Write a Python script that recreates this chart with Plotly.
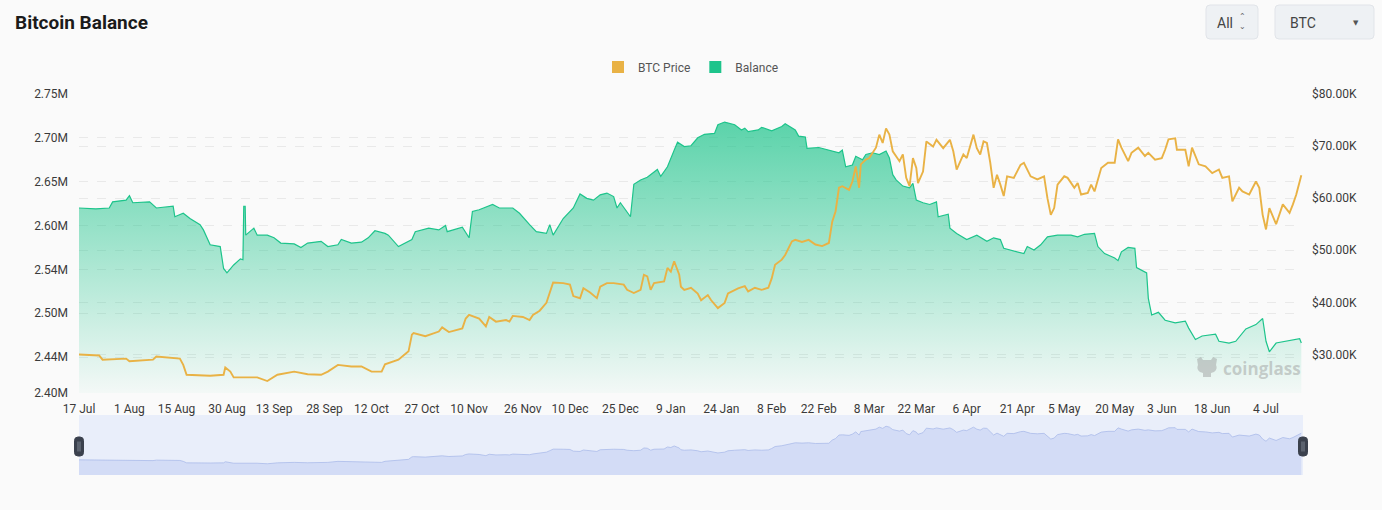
import plotly.graph_objects as go

# balance of BTC held on exchanges, in millions of BTC
balance_dates = [
    "2023-07-17", "2023-07-22", "2023-07-26", "2023-07-27", "2023-07-31", "2023-08-01",
    "2023-08-02", "2023-08-07", "2023-08-09", "2023-08-14", "2023-08-14 12:00", "2023-08-17",
    "2023-08-19", "2023-08-22", "2023-08-23", "2023-08-25", "2023-08-28", "2023-08-29",
    "2023-08-30", "2023-09-01", "2023-09-03", "2023-09-03 18:00", "2023-09-04", "2023-09-04 10:00",
    "2023-09-04 14:00", "2023-09-07", "2023-09-08", "2023-09-11", "2023-09-13", "2023-09-15",
    "2023-09-19", "2023-09-21", "2023-09-23", "2023-09-27", "2023-09-29", "2023-10-02",
    "2023-10-03", "2023-10-06", "2023-10-09", "2023-10-11", "2023-10-13", "2023-10-16",
    "2023-10-17", "2023-10-20", "2023-10-24", "2023-10-25", "2023-10-29", "2023-11-01",
    "2023-11-03", "2023-11-03 12:00", "2023-11-08", "2023-11-10", "2023-11-11", "2023-11-13",
    "2023-11-17", "2023-11-19", "2023-11-23", "2023-11-25", "2023-11-28", "2023-11-30",
    "2023-12-03", "2023-12-04", "2023-12-05", "2023-12-08", "2023-12-11", "2023-12-13",
    "2023-12-15", "2023-12-17", "2023-12-19", "2023-12-21", "2023-12-23", "2023-12-24",
    "2023-12-25", "2023-12-28", "2023-12-29", "2023-12-31", "2024-01-02", "2024-01-05",
    "2024-01-06", "2024-01-08", "2024-01-10", "2024-01-11", "2024-01-13", "2024-01-15",
    "2024-01-17", "2024-01-19", "2024-01-22", "2024-01-23", "2024-01-25", "2024-01-28",
    "2024-01-30", "2024-01-31", "2024-02-01", "2024-02-04", "2024-02-05", "2024-02-08",
    "2024-02-11", "2024-02-12", "2024-02-15", "2024-02-16", "2024-02-18", "2024-02-18 12:00",
    "2024-02-22", "2024-02-25", "2024-02-28", "2024-02-29", "2024-03-01", "2024-03-03",
    "2024-03-04", "2024-03-06", "2024-03-07", "2024-03-09", "2024-03-11", "2024-03-13",
    "2024-03-14", "2024-03-15", "2024-03-16", "2024-03-18", "2024-03-20", "2024-03-21",
    "2024-03-22", "2024-03-24", "2024-03-26", "2024-03-28", "2024-03-28 12:00", "2024-03-31 12:00",
    "2024-04-01", "2024-04-03", "2024-04-06", "2024-04-09", "2024-04-12", "2024-04-14",
    "2024-04-16", "2024-04-17", "2024-04-20", "2024-04-23", "2024-04-24", "2024-04-26",
    "2024-04-28", "2024-04-30", "2024-05-03", "2024-05-07", "2024-05-09", "2024-05-11",
    "2024-05-14", "2024-05-15", "2024-05-17", "2024-05-20", "2024-05-21", "2024-05-22",
    "2024-05-24", "2024-05-26", "2024-05-26 12:00", "2024-05-28", "2024-05-29 12:00", "2024-05-30",
    "2024-05-31", "2024-06-02", "2024-06-04", "2024-06-07", "2024-06-10", "2024-06-11",
    "2024-06-13", "2024-06-15", "2024-06-19", "2024-06-20", "2024-06-23", "2024-06-25",
    "2024-06-28", "2024-07-01", "2024-07-03", "2024-07-04", "2024-07-05", "2024-07-07",
    "2024-07-10", "2024-07-12", "2024-07-14", "2024-07-14 12:00",
]
balance_m = [
    2.620, 2.619, 2.620, 2.627, 2.629, 2.634,
    2.626, 2.627, 2.620, 2.622, 2.610, 2.614,
    2.608, 2.601, 2.595, 2.578, 2.576, 2.551,
    2.546, 2.555, 2.562, 2.561, 2.622, 2.622,
    2.589, 2.597, 2.589, 2.589, 2.586, 2.580,
    2.579, 2.575, 2.580, 2.582, 2.576, 2.578,
    2.584, 2.580, 2.581, 2.586, 2.594, 2.591,
    2.589, 2.576, 2.584, 2.593, 2.597, 2.595,
    2.600, 2.593, 2.598, 2.586, 2.616, 2.618,
    2.624, 2.620, 2.620, 2.614, 2.601, 2.593,
    2.591, 2.601, 2.589, 2.608, 2.620, 2.636,
    2.631, 2.629, 2.635, 2.637, 2.633, 2.620,
    2.626, 2.610, 2.647, 2.652, 2.655, 2.664,
    2.656, 2.667, 2.686, 2.695, 2.690, 2.691,
    2.700, 2.704, 2.705, 2.715, 2.718, 2.715,
    2.709, 2.711, 2.707, 2.709, 2.712, 2.708,
    2.713, 2.716, 2.709, 2.702, 2.701, 2.688,
    2.689, 2.686, 2.683, 2.686, 2.667, 2.669,
    2.679, 2.675, 2.681, 2.683, 2.681, 2.685,
    2.677, 2.658, 2.652, 2.645, 2.643, 2.648,
    2.629, 2.626, 2.624, 2.627, 2.610, 2.613,
    2.597, 2.591, 2.584, 2.589, 2.582, 2.586,
    2.584, 2.574, 2.571, 2.568, 2.576, 2.572,
    2.578, 2.587, 2.589, 2.589, 2.587, 2.590,
    2.591, 2.576, 2.568, 2.563, 2.560, 2.570,
    2.575, 2.574, 2.552, 2.549, 2.546, 2.517,
    2.498, 2.501, 2.492, 2.489, 2.491, 2.483,
    2.470, 2.474, 2.476, 2.468, 2.466, 2.468,
    2.482, 2.487, 2.494, 2.468, 2.456, 2.466,
    2.468, 2.470, 2.471, 2.466,
]

# BTC price, thousands of USD
price_dates = [
    "2023-07-17", "2023-07-23", "2023-07-24", "2023-07-31", "2023-08-01", "2023-08-08",
    "2023-08-09", "2023-08-16", "2023-08-17", "2023-08-18", "2023-08-25", "2023-08-29",
    "2023-08-29 12:00", "2023-08-31", "2023-09-01", "2023-09-08", "2023-09-11", "2023-09-14",
    "2023-09-19", "2023-09-23", "2023-09-27", "2023-09-29", "2023-10-02", "2023-10-06",
    "2023-10-09", "2023-10-12", "2023-10-15", "2023-10-16", "2023-10-20", "2023-10-22",
    "2023-10-23", "2023-10-24", "2023-10-24 12:00", "2023-10-28", "2023-11-01", "2023-11-02",
    "2023-11-04", "2023-11-08", "2023-11-09", "2023-11-10", "2023-11-13", "2023-11-15",
    "2023-11-16", "2023-11-18", "2023-11-21", "2023-11-22", "2023-11-23", "2023-11-26",
    "2023-11-28", "2023-11-29", "2023-12-01", "2023-12-03", "2023-12-04", "2023-12-05",
    "2023-12-08", "2023-12-10", "2023-12-11", "2023-12-13", "2023-12-14", "2023-12-16",
    "2023-12-18", "2023-12-19", "2023-12-21", "2023-12-23", "2023-12-26", "2023-12-27",
    "2023-12-29", "2023-12-31", "2024-01-01", "2024-01-02", "2024-01-03", "2024-01-04",
    "2024-01-07", "2024-01-08", "2024-01-09", "2024-01-10", "2024-01-11 12:00", "2024-01-12",
    "2024-01-13", "2024-01-15", "2024-01-17", "2024-01-18", "2024-01-20", "2024-01-21",
    "2024-01-23", "2024-01-25", "2024-01-26", "2024-01-28", "2024-01-29", "2024-01-31",
    "2024-02-01", "2024-02-03", "2024-02-05", "2024-02-07", "2024-02-08", "2024-02-09",
    "2024-02-11", "2024-02-12", "2024-02-14", "2024-02-15", "2024-02-17", "2024-02-19",
    "2024-02-21", "2024-02-23", "2024-02-25", "2024-02-26", "2024-02-27", "2024-02-28",
    "2024-02-29", "2024-03-02", "2024-03-03", "2024-03-04", "2024-03-05", "2024-03-05 12:00",
    "2024-03-07", "2024-03-08", "2024-03-10", "2024-03-11", "2024-03-12", "2024-03-13",
    "2024-03-14", "2024-03-15", "2024-03-17", "2024-03-18", "2024-03-19", "2024-03-20",
    "2024-03-21", "2024-03-22", "2024-03-22 12:00", "2024-03-24", "2024-03-25", "2024-03-27",
    "2024-03-28", "2024-03-30", "2024-04-01", "2024-04-02", "2024-04-03", "2024-04-05",
    "2024-04-06", "2024-04-08", "2024-04-09", "2024-04-10", "2024-04-11", "2024-04-12",
    "2024-04-13", "2024-04-14", "2024-04-15", "2024-04-16", "2024-04-17", "2024-04-18",
    "2024-04-20", "2024-04-22", "2024-04-23", "2024-04-25", "2024-04-27", "2024-04-29",
    "2024-04-30", "2024-05-01", "2024-05-02", "2024-05-03", "2024-05-05", "2024-05-06",
    "2024-05-08", "2024-05-09", "2024-05-10", "2024-05-12", "2024-05-13", "2024-05-14",
    "2024-05-16", "2024-05-18", "2024-05-20", "2024-05-21", "2024-05-22", "2024-05-24",
    "2024-05-25", "2024-05-27", "2024-05-29", "2024-05-30", "2024-06-01", "2024-06-03",
    "2024-06-04", "2024-06-05", "2024-06-07", "2024-06-07 12:00", "2024-06-10", "2024-06-11",
    "2024-06-12", "2024-06-14", "2024-06-16", "2024-06-18", "2024-06-20", "2024-06-21",
    "2024-06-23", "2024-06-24", "2024-06-26", "2024-06-27", "2024-06-29", "2024-07-01",
    "2024-07-02", "2024-07-03", "2024-07-04", "2024-07-05", "2024-07-07", "2024-07-09",
    "2024-07-11", "2024-07-12", "2024-07-13", "2024-07-14 12:00",
]
price_k = [
    30.0, 29.8, 29.0, 29.2, 28.7, 29.0,
    29.6, 29.2, 28.0, 26.1, 25.9, 26.1,
    27.5, 26.7, 25.6, 25.6, 24.9, 26.1,
    26.7, 26.2, 26.1, 26.7, 28.0, 27.7,
    27.7, 26.7, 26.7, 28.1, 29.0, 30.0,
    30.6, 33.8, 34.1, 33.5, 34.4, 35.2,
    34.3, 35.0, 36.9, 37.6, 36.9, 35.4,
    37.2, 36.3, 36.6, 36.3, 37.4, 37.2,
    36.6, 37.6, 38.4, 39.9, 41.8, 43.8,
    43.7, 43.4, 41.2, 40.8, 42.7, 41.9,
    40.8, 43.0, 43.7, 43.7, 43.4, 42.4,
    41.8, 42.4, 45.3, 45.0, 42.4, 43.7,
    44.0, 46.6, 45.9, 47.9, 45.3, 43.0,
    42.4, 42.8, 41.7, 40.4, 41.4, 40.4,
    38.9, 39.9, 41.7, 42.4, 42.7, 43.1,
    42.1, 42.8, 42.4, 42.8, 44.6, 47.2,
    48.2, 49.1, 51.7, 52.0, 51.6, 52.0,
    51.1, 50.8, 51.4, 55.5, 57.5, 62.0,
    62.3, 61.6, 63.2, 66.1, 62.0, 66.5,
    67.4, 67.7, 69.7, 72.2, 70.6, 73.4,
    72.2, 69.0, 67.1, 68.4, 63.9, 62.3,
    67.7, 65.8, 62.9, 65.1, 70.9, 69.9,
    71.2, 69.6, 71.2, 69.0, 65.5, 68.4,
    67.7, 72.2, 69.6, 68.4, 70.9, 70.6,
    66.8, 62.0, 64.5, 62.6, 60.4, 64.2,
    63.9, 66.4, 66.8, 64.2, 63.6, 64.2,
    60.0, 56.8, 58.1, 62.6, 64.2, 63.9,
    62.0, 62.9, 60.7, 61.0, 62.6, 61.3,
    65.8, 66.8, 66.8, 71.3, 69.7, 67.1,
    68.7, 69.7, 68.1, 68.7, 67.4, 67.7,
    69.3, 71.3, 71.5, 69.3, 69.3, 66.1,
    69.7, 66.5, 66.1, 64.8, 65.5, 63.9,
    64.2, 59.4, 62.0, 61.3, 60.7, 63.2,
    62.0, 56.8, 54.0, 58.1, 55.0, 58.8,
    57.2, 58.8, 60.7, 64.4,
]

x_tick_dates = [
    "2023-07-17", "2023-08-01", "2023-08-15", "2023-08-30", "2023-09-13", "2023-09-28",
    "2023-10-12", "2023-10-27", "2023-11-10", "2023-11-26", "2023-12-10", "2023-12-25",
    "2024-01-09", "2024-01-24", "2024-02-08", "2024-02-22", "2024-03-08", "2024-03-22",
    "2024-04-06", "2024-04-21", "2024-05-05", "2024-05-20", "2024-06-03", "2024-06-18",
    "2024-07-04",
]
balance_ticks = [2.409, 2.45, 2.50, 2.55, 2.60, 2.65, 2.70, 2.75]
balance_tick_text = ["2.40M", "2.44M", "2.50M", "2.54M", "2.60M", "2.65M", "2.70M", "2.75M"]
price_ticks = [30, 40, 50, 60, 70, 80]
price_tick_text = ["$30.00K", "$40.00K", "$50.00K", "$60.00K", "$70.00K", "$80.00K"]

GREEN = "#1dc48b"
GOLD = "#e9b245"
FONT = "Roboto"
BG = "#fafafa"

# figure geometry (px)
W, H = 1382, 510
L, R, T, B = 79, 79, 94, 35
PLOT_H = H - T - B
MAIN_BOTTOM = (475 - 393) / PLOT_H
SLIDER_TOP = (475 - 415) / PLOT_H


def px_x(x):
    return (x - L) / (W - L - R)


def px_y(y):
    return (H - B - y) / PLOT_H


def rounded_rect(hw, hh, r):
    return (
        f"M {-hw + r},{-hh} L {hw - r},{-hh} Q {hw},{-hh} {hw},{-hh + r} "
        f"L {hw},{hh - r} Q {hw},{hh} {hw - r},{hh} L {-hw + r},{hh} "
        f"Q {-hw},{hh} {-hw},{hh - r} L {-hw},{-hh + r} Q {-hw},{-hh} {-hw + r},{-hh} Z"
    )


def pixel_shape(cx, cy, path, fill, line, width=1):
    return dict(
        type="path", xref="paper", yref="paper",
        xsizemode="pixel", ysizemode="pixel",
        xanchor=px_x(cx), yanchor=px_y(cy),
        path=path, fillcolor=fill, line=dict(color=line, width=width),
    )


def main():
    fig = go.Figure()

    fig.add_trace(go.Scatter(
        x=balance_dates, y=balance_m, name="Balance", showlegend=False,
        mode="lines", line=dict(color=GREEN, width=1.2),
        fill="tozeroy",
        fillgradient=dict(
            type="vertical", start=2.409, stop=max(balance_m),
            colorscale=[[0, "rgba(29,196,139,0.03)"], [1, "rgba(29,196,139,0.72)"]],
        ),
        hoverinfo="skip",
    ))
    fig.add_trace(go.Scatter(
        x=price_dates, y=price_k, name="BTC Price", showlegend=False,
        mode="lines", line=dict(color=GOLD, width=1.9), yaxis="y2",
        hoverinfo="skip",
    ))
    # data shadow of the zoom slider
    fig.add_trace(go.Scatter(
        x=price_dates, y=price_k, showlegend=False, xaxis="x2", yaxis="y3",
        mode="lines", line=dict(color="#abbbea", width=0.8),
        fill="tozeroy", fillcolor="#d3dcf6", hoverinfo="skip",
    ))
    # legend swatches
    for name, color in [("BTC Price", GOLD), ("Balance", GREEN)]:
        fig.add_trace(go.Scatter(
            x=[None], y=[None], name=name, mode="markers",
            marker=dict(symbol="square", size=12, color=color),
        ))

    fig.update_layout(
        width=W, height=H,
        margin=dict(l=L, r=R, t=T, b=B, autoexpand=False),
        paper_bgcolor=BG, plot_bgcolor="rgba(0,0,0,0)",
        font=dict(family=FONT, size=12, color="#3a3a3a"),
        title=dict(
            text="Bitcoin Balance", xref="container", yref="container",
            x=15 / W, y=1 - 22 / H, xanchor="left", yanchor="middle",
            font=dict(family=FONT, size=19, color="#1b1b1b", weight="bold"),
        ),
        legend=dict(
            orientation="h", x=0.5, xanchor="center", y=px_y(67), yanchor="middle",
            font=dict(size=12, color="#555"), bgcolor="rgba(0,0,0,0)",
            itemwidth=30, tracegroupgap=0,
        ),
        xaxis=dict(
            type="date", range=["2023-07-17", "2024-07-15"], domain=[0, 1],
            anchor="y", tickvals=x_tick_dates, tickformat="%-d %b",
            showgrid=False, zeroline=False, showline=False, ticks="",
            ticklabelstandoff=7, tickfont=dict(size=12, color="#3a3a3a"),
        ),
        yaxis=dict(
            domain=[MAIN_BOTTOM, 1], range=[2.409, 2.75],
            tickvals=balance_ticks, ticktext=balance_tick_text,
            showgrid=True, gridcolor="#e9e9e9", griddash="dash", gridwidth=1,
            zeroline=False, ticks="", ticklabelstandoff=10,
        ),
        yaxis2=dict(
            overlaying="y", side="right", range=[22.6, 80],
            tickvals=price_ticks, ticktext=price_tick_text,
            showgrid=True, gridcolor="#e9e9e9", griddash="dash", gridwidth=1,
            zeroline=False, ticks="", ticklabelstandoff=8,
        ),
        xaxis2=dict(
            matches="x", anchor="y3", domain=[0, 1],
            showticklabels=False, showgrid=False, zeroline=False, showline=False,
        ),
        yaxis3=dict(
            domain=[0, SLIDER_TOP], range=[10.4, 87.9], visible=False,
        ),
        showlegend=True,
        hovermode=False,
    )

    shapes = [
        # slider background
        dict(type="rect", xref="paper", yref="paper", x0=0, x1=1, y0=0, y1=SLIDER_TOP,
             fillcolor="#e9eefa", line=dict(width=0), layer="below"),
    ]
    # slider handles
    for x in (L, W - R):
        shapes.append(pixel_shape(x, 446.5, rounded_rect(4.5, 9.5, 3.5), "#3b414d", "#3b414d"))
        shapes.append(pixel_shape(x, 446.5, "M -1,-5 L -1,5 M 1,-5 L 1,5", "rgba(0,0,0,0)", "#9aa1ad", 0.7))
    # top-right selectors
    shapes.append(pixel_shape(1232, 22, rounded_rect(26, 17, 4), "#eef1f4", "#e1e4e9"))
    shapes.append(pixel_shape(1324.5, 22, rounded_rect(49.5, 17, 4), "#eef1f4", "#e1e4e9"))
    # watermark logo
    shapes.append(pixel_shape(
        1207, 367,
        "M -10,8 L -6,10 L -4,7 L 4,7 L 6,10 L 10,8 L 9,2 Q 11,-2 7,-5 L 4,-6 "
        "L 4,-10 L -4,-10 L -4,-6 L -7,-5 Q -11,-2 -9,2 Z",
        "rgba(150,150,150,0.45)", "rgba(0,0,0,0)", 0,
    ))
    fig.update_layout(shapes=shapes)

    fig.add_annotation(
        text="coinglass", xref="paper", yref="paper", x=px_x(1221), y=px_y(368),
        xanchor="left", yanchor="middle", showarrow=False,
        font=dict(family="Open Sans", size=17, color="rgba(150,150,150,0.45)", weight="bold"),
    )
    fig.add_annotation(
        text="All", xref="paper", yref="paper", x=px_x(1215), y=px_y(22.5),
        xanchor="left", yanchor="middle", showarrow=False,
        font=dict(family=FONT, size=14, color="#444"),
    )
    fig.add_annotation(
        text="⌃<br>⌄", xref="paper", yref="paper", x=px_x(1242), y=px_y(22),
        xanchor="center", yanchor="middle", showarrow=False,
        font=dict(family="DejaVu Sans", size=8, color="#666"),
    )
    fig.add_annotation(
        text="BTC", xref="paper", yref="paper", x=px_x(1288), y=px_y(22.5),
        xanchor="left", yanchor="middle", showarrow=False,
        font=dict(family=FONT, size=14, color="#444"),
    )
    fig.add_annotation(
        text="▼", xref="paper", yref="paper", x=px_x(1356), y=px_y(22.5),
        xanchor="center", yanchor="middle", showarrow=False,
        font=dict(family="DejaVu Sans", size=7, color="#555"),
    )

    # drop the default page margin so the figure fills the window exactly
    fig.write_html(
        "out.html",
        config={"displayModeBar": False},
        post_script=f"document.body.style.margin='0';document.body.style.background='{BG}';",
    )


if __name__ == "__main__":
    main()
